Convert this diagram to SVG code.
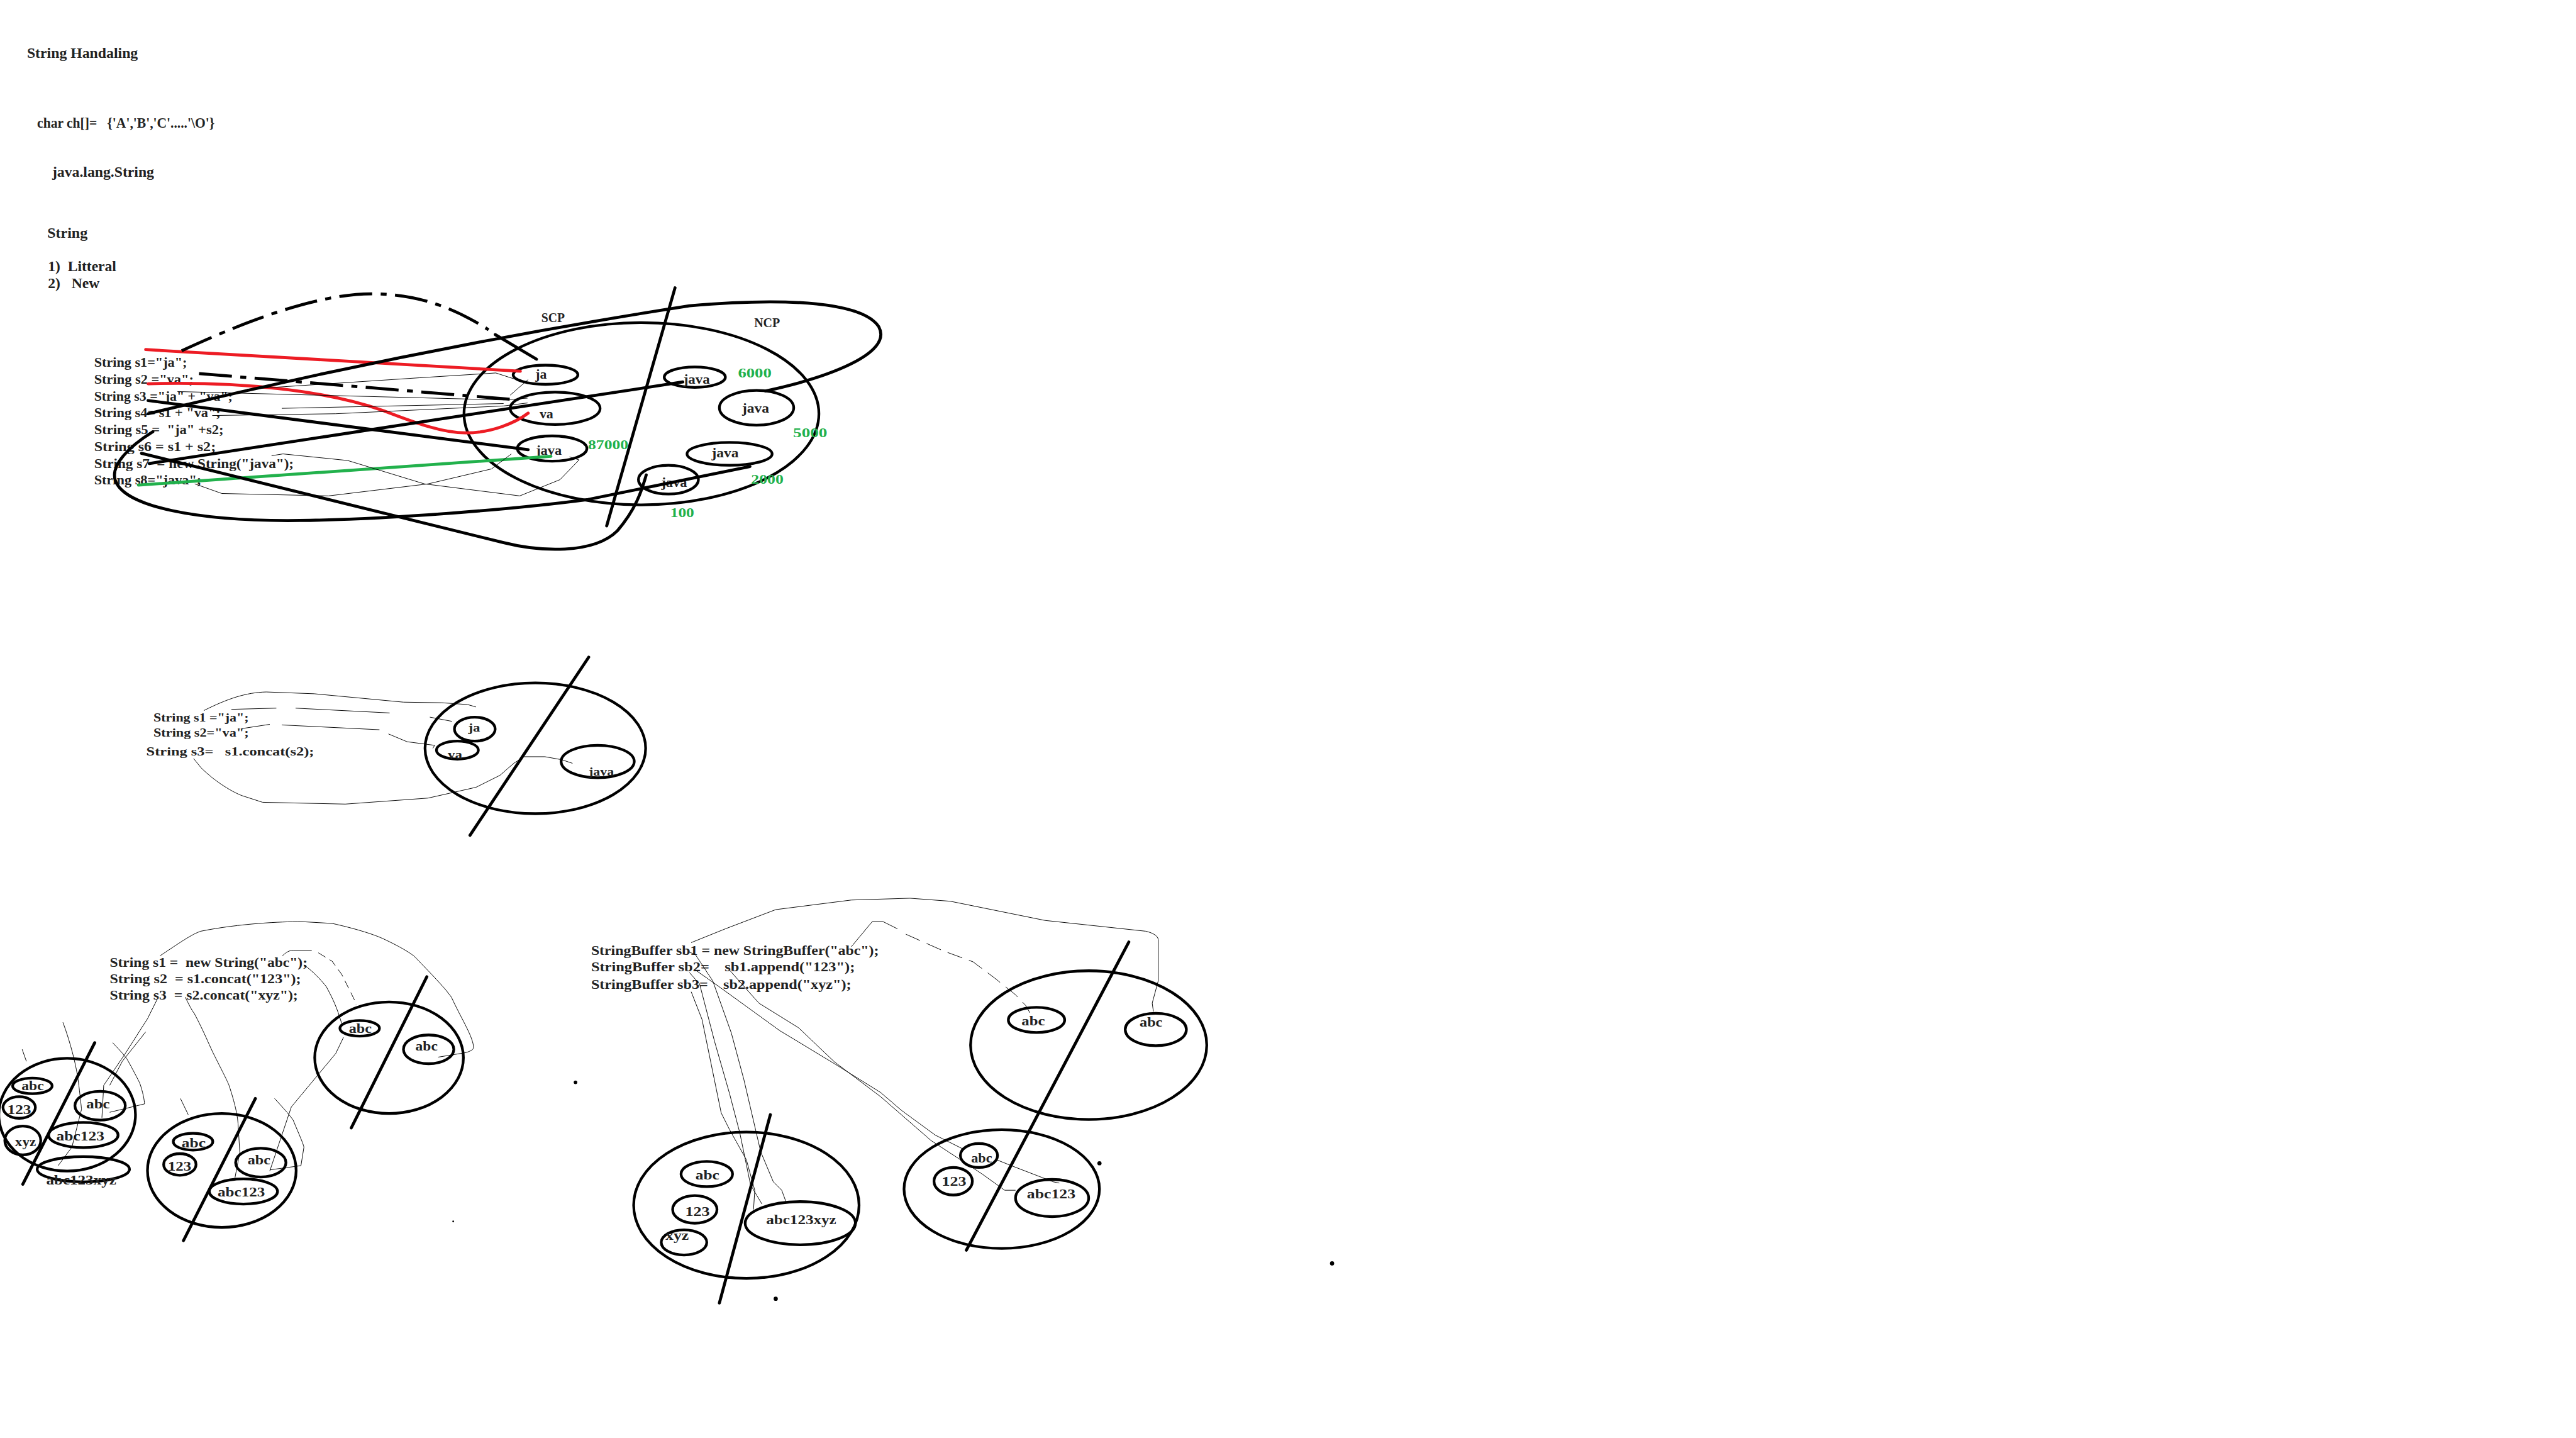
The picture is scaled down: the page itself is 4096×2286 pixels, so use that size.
<svg xmlns="http://www.w3.org/2000/svg" width="4096" height="2286" viewBox="0 0 4096 2286">
<style>
.t{font-family:"Liberation Serif",serif;font-weight:bold;fill:#222;white-space:pre}
.g{fill:#22b14c}
.th{fill:none;stroke:#000;stroke-width:5;stroke-linecap:round;stroke-linejoin:round}
.e{fill:none;stroke:#000;stroke-width:4.5}
.thin{fill:none;stroke:#000;stroke-width:1}
.red{fill:none;stroke:#ed1c24;stroke-width:5;stroke-linecap:round}
.grn{fill:none;stroke:#22b14c;stroke-width:5;stroke-linecap:round}
.dash{fill:none;stroke:#000;stroke-width:5;stroke-dasharray:55 14 10 14}
</style>
<rect width="4096" height="2286" fill="#fff"/>
<g transform="scale(0.95322)">
<g id="header">
<text class="t" x="45" y="97" font-size="25" textLength="185" lengthAdjust="spacingAndGlyphs">String Handaling</text>
<text class="t" x="62" y="213" font-size="25" textLength="296" lengthAdjust="spacingAndGlyphs">char ch[]=   {'A','B','C'.....'\O'}</text>
<text class="t" x="87" y="295" font-size="25" textLength="170" lengthAdjust="spacingAndGlyphs">java.lang.String</text>
<text class="t" x="79" y="397" font-size="25" textLength="67" lengthAdjust="spacingAndGlyphs">String</text>
<text class="t" x="80" y="452" font-size="25" textLength="114" lengthAdjust="spacingAndGlyphs">1)  Litteral</text>
<text class="t" x="80" y="480" font-size="25" textLength="86" lengthAdjust="spacingAndGlyphs">2)   New</text>
</g>

<g id="code1">
<text class="t" x="157" y="612" font-size="23" textLength="155" lengthAdjust="spacingAndGlyphs">String s1="ja";</text>
<text class="t" x="157" y="640" font-size="23" textLength="166" lengthAdjust="spacingAndGlyphs">String s2 ="va";</text>
<text class="t" x="157" y="668" font-size="23" textLength="231" lengthAdjust="spacingAndGlyphs">String s3 ="ja" + "va";</text>
<text class="t" x="157" y="696" font-size="23" textLength="211" lengthAdjust="spacingAndGlyphs">String s4= s1 + "va";</text>
<text class="t" x="157" y="724" font-size="23" textLength="216" lengthAdjust="spacingAndGlyphs">String s5 =  "ja" +s2;</text>
<text class="t" x="157" y="752" font-size="23" textLength="203" lengthAdjust="spacingAndGlyphs">String s6 = s1 + s2;</text>
<text class="t" x="157" y="780" font-size="23" textLength="333" lengthAdjust="spacingAndGlyphs">String s7  = new String("java");</text>
<text class="t" x="157" y="808" font-size="23" textLength="179" lengthAdjust="spacingAndGlyphs">String s8="java";</text>
</g>

<g id="pool1">
<ellipse class="e" cx="1070" cy="690" rx="296" ry="152"/>
<path class="th" d="M1126,480 L1012,877"/>
<text class="t" x="903" y="537" font-size="22" textLength="39" lengthAdjust="spacingAndGlyphs">SCP</text>
<text class="t" x="1258" y="546" font-size="22" textLength="43" lengthAdjust="spacingAndGlyphs">NCP</text>
</g>
<g id="n-ja"><ellipse class="e" cx="910" cy="625" rx="54" ry="16"/><text class="t" x="893" y="632" font-size="23" textLength="19" lengthAdjust="spacingAndGlyphs">ja</text></g>
<g id="n-va"><ellipse class="e" cx="926" cy="681" rx="75" ry="27"/><text class="t" x="900" y="698" font-size="23" textLength="23" lengthAdjust="spacingAndGlyphs">va</text></g>
<g id="n-java-scp"><ellipse class="e" cx="921" cy="748" rx="58" ry="21"/><text class="t" x="894" y="758" font-size="23" textLength="43" lengthAdjust="spacingAndGlyphs">java</text><text class="t g" x="981" y="749" font-size="23" textLength="67" lengthAdjust="spacingAndGlyphs">87000</text></g>
<g id="n-java-6000"><ellipse class="e" cx="1159" cy="629" rx="51" ry="17"/><text class="t" x="1140" y="640" font-size="23" textLength="44" lengthAdjust="spacingAndGlyphs">java</text><text class="t g" x="1231" y="629" font-size="23" textLength="56" lengthAdjust="spacingAndGlyphs">6000</text></g>
<g id="n-java-5000"><ellipse class="e" cx="1262" cy="680" rx="62" ry="29"/><text class="t" x="1238" y="688" font-size="23" textLength="45" lengthAdjust="spacingAndGlyphs">java</text><text class="t g" x="1323" y="729" font-size="23" textLength="57" lengthAdjust="spacingAndGlyphs">5000</text></g>
<g id="n-java-2000"><ellipse class="e" cx="1217" cy="757" rx="71" ry="19"/><text class="t" x="1187" y="763" font-size="23" textLength="45" lengthAdjust="spacingAndGlyphs">java</text><text class="t g" x="1253" y="807" font-size="23" textLength="54" lengthAdjust="spacingAndGlyphs">2000</text></g>
<g id="n-java-100"><ellipse class="e" cx="1115" cy="800" rx="50" ry="24"/><text class="t" x="1103" y="812" font-size="23" textLength="43" lengthAdjust="spacingAndGlyphs">java</text><text class="t g" x="1118" y="862" font-size="23" textLength="40" lengthAdjust="spacingAndGlyphs">100</text></g>

<g id="code2">
<text class="t" x="256" y="1203" font-size="20" textLength="159" lengthAdjust="spacingAndGlyphs">String s1 ="ja";</text>
<text class="t" x="256" y="1228" font-size="20" textLength="159" lengthAdjust="spacingAndGlyphs">String s2="va";</text>
<text class="t" x="244" y="1260" font-size="20" textLength="280" lengthAdjust="spacingAndGlyphs">String s3=   s1.concat(s2);</text>
</g>
<g id="pool2">
<ellipse class="e" cx="893" cy="1248" rx="184" ry="109"/>
<path class="th" d="M982,1096 L784,1393"/>
</g>
<g id="p2-ja"><ellipse class="e" cx="792" cy="1216" rx="34" ry="20"/><text class="t" x="781" y="1220" font-size="20" textLength="20" lengthAdjust="spacingAndGlyphs">ja</text></g>
<g id="p2-va"><ellipse class="e" cx="763" cy="1251" rx="35" ry="15"/><text class="t" x="747" y="1265" font-size="20" textLength="24" lengthAdjust="spacingAndGlyphs">va</text></g>
<g id="p2-java"><ellipse class="e" cx="997" cy="1270" rx="61" ry="27"/><text class="t" x="982" y="1293" font-size="20" textLength="42" lengthAdjust="spacingAndGlyphs">java</text></g>

<g id="code3">
<text class="t" x="183" y="1612" font-size="23" textLength="330" lengthAdjust="spacingAndGlyphs">String s1 =  new String("abc");</text>
<text class="t" x="183" y="1640" font-size="23" textLength="319" lengthAdjust="spacingAndGlyphs">String s2  = s1.concat("123");</text>
<text class="t" x="183" y="1667" font-size="23" textLength="314" lengthAdjust="spacingAndGlyphs">String s3  = s2.concat("xyz");</text>
</g>
<g id="poolA"><ellipse class="e" cx="112" cy="1859" rx="114" ry="94"/><path class="th" d="M158,1739 L38,1975"/></g>
<g id="A-abc"><ellipse class="e" cx="54" cy="1811" rx="33" ry="13"/><text class="t" x="36" y="1818" font-size="23" textLength="37" lengthAdjust="spacingAndGlyphs">abc</text></g>
<g id="A-123"><ellipse class="e" cx="32" cy="1847" rx="27" ry="18"/><text class="t" x="12" y="1858" font-size="23" textLength="40" lengthAdjust="spacingAndGlyphs">123</text></g>
<g id="A-xyz"><ellipse class="e" cx="38" cy="1902" rx="30" ry="24"/><text class="t" x="25" y="1911" font-size="23" textLength="35" lengthAdjust="spacingAndGlyphs">xyz</text></g>
<g id="A-abc2"><ellipse class="e" cx="167" cy="1844" rx="42" ry="24"/><text class="t" x="144" y="1848" font-size="23" textLength="39" lengthAdjust="spacingAndGlyphs">abc</text></g>
<g id="A-abc123"><ellipse class="e" cx="139" cy="1893" rx="58" ry="21"/><text class="t" x="94" y="1902" font-size="23" textLength="80" lengthAdjust="spacingAndGlyphs">abc123</text></g>
<g id="A-abc123xyz"><ellipse class="e" cx="139" cy="1950" rx="77" ry="21"/><text class="t" x="77" y="1975" font-size="23" textLength="117" lengthAdjust="spacingAndGlyphs">abc123xyz</text></g>

<g id="poolB"><ellipse class="e" cx="370" cy="1952" rx="124" ry="95"/><path class="th" d="M426,1832 L306,2069"/></g>
<g id="B-abc"><ellipse class="e" cx="322" cy="1904" rx="33" ry="14"/><text class="t" x="303" y="1913" font-size="23" textLength="40" lengthAdjust="spacingAndGlyphs">abc</text></g>
<g id="B-123"><ellipse class="e" cx="300" cy="1942" rx="27" ry="18"/><text class="t" x="280" y="1952" font-size="23" textLength="39" lengthAdjust="spacingAndGlyphs">123</text></g>
<g id="B-abc2"><ellipse class="e" cx="435" cy="1939" rx="42" ry="24"/><text class="t" x="413" y="1942" font-size="23" textLength="38" lengthAdjust="spacingAndGlyphs">abc</text></g>
<g id="B-abc123"><ellipse class="e" cx="406" cy="1987" rx="57" ry="21"/><text class="t" x="363" y="1995" font-size="23" textLength="79" lengthAdjust="spacingAndGlyphs">abc123</text></g>

<g id="poolC"><ellipse class="e" cx="649" cy="1764" rx="124" ry="93"/><path class="th" d="M712,1629 L586,1881"/></g>
<g id="C-abc"><ellipse class="e" cx="600" cy="1715" rx="33" ry="13"/><text class="t" x="582" y="1723" font-size="23" textLength="38" lengthAdjust="spacingAndGlyphs">abc</text></g>
<g id="C-abc2"><ellipse class="e" cx="715" cy="1750" rx="42" ry="24"/><text class="t" x="693" y="1752" font-size="23" textLength="37" lengthAdjust="spacingAndGlyphs">abc</text></g>

<g id="code4">
<text class="t" x="986" y="1592" font-size="23" textLength="480" lengthAdjust="spacingAndGlyphs">StringBuffer sb1 = new StringBuffer("abc");</text>
<text class="t" x="986" y="1620" font-size="23" textLength="440" lengthAdjust="spacingAndGlyphs">StringBuffer sb2=    sb1.append("123");</text>
<text class="t" x="986" y="1649" font-size="23" textLength="434" lengthAdjust="spacingAndGlyphs">StringBuffer sb3=    sb2.append("xyz");</text>
</g>
<g id="poolD"><ellipse class="e" cx="1245" cy="2010" rx="188" ry="122"/><path class="th" d="M1285,1859 L1200,2173"/></g>
<g id="D-abc"><ellipse class="e" cx="1179" cy="1958" rx="43" ry="21"/><text class="t" x="1160" y="1967" font-size="22" textLength="40" lengthAdjust="spacingAndGlyphs">abc</text></g>
<g id="D-123"><ellipse class="e" cx="1159" cy="2017" rx="37" ry="23"/><text class="t" x="1143" y="2028" font-size="22" textLength="41" lengthAdjust="spacingAndGlyphs">123</text></g>
<g id="D-xyz"><ellipse class="e" cx="1141" cy="2072" rx="38" ry="21"/><text class="t" x="1110" y="2068" font-size="22" textLength="39" lengthAdjust="spacingAndGlyphs">xyz</text></g>
<g id="D-abc123xyz"><ellipse class="e" cx="1335" cy="2040" rx="92" ry="36"/><text class="t" x="1278" y="2042" font-size="22" textLength="117" lengthAdjust="spacingAndGlyphs">abc123xyz</text></g>

<g id="poolE"><ellipse class="e" cx="1671" cy="1983" rx="163" ry="99"/></g>
<g id="E-abc"><ellipse class="e" cx="1633" cy="1927" rx="31" ry="20"/><text class="t" x="1620" y="1939" font-size="22" textLength="35" lengthAdjust="spacingAndGlyphs">abc</text></g>
<g id="E-123"><ellipse class="e" cx="1590" cy="1970" rx="32" ry="23"/><text class="t" x="1571" y="1978" font-size="22" textLength="41" lengthAdjust="spacingAndGlyphs">123</text></g>
<g id="E-abc123"><ellipse class="e" cx="1755" cy="1998" rx="61" ry="31"/><text class="t" x="1713" y="1999" font-size="22" textLength="81" lengthAdjust="spacingAndGlyphs">abc123</text></g>

<g id="poolF"><ellipse class="e" cx="1816" cy="1743" rx="197" ry="124"/><path class="th" d="M1883,1571 L1612,2085"/></g>
<g id="F-abc"><ellipse class="e" cx="1729" cy="1701" rx="47" ry="21"/><text class="t" x="1704" y="1710" font-size="22" textLength="39" lengthAdjust="spacingAndGlyphs">abc</text></g>
<g id="F-abc2"><ellipse class="e" cx="1928" cy="1717" rx="51" ry="27"/><text class="t" x="1901" y="1712" font-size="22" textLength="38" lengthAdjust="spacingAndGlyphs">abc</text></g>

<g id="connectors">
<!-- diagram 1 -->
<path class="red" d="M243,583 L868,619"/>
<path class="red" d="M247,640 C400,636 540,650 640,685 C700,708 740,722 777,722 C820,722 860,705 881,689"/>
<path class="grn" d="M231,809 L919,761"/>
<path class="dash" d="M303,585 C390,545 520,490 620,490 C700,490 760,515 815,550"/>
<path class="th" d="M826,558 L895,599"/>
<path class="dash" d="M332,623 L853,666"/>
<path class="th" d="M247,690 Q700,580 1150,510 C1320,495 1440,505 1466,545 C1490,590 1380,630 1277,652"/>
<path class="th" d="M249,773 L1139,637"/>
<path class="th" d="M247,668 L881,750"/>
<path class="th" d="M236,756 L840,905 C900,920 990,925 1030,885 C1060,850 1070,820 1078,792"/>
<path class="th" d="M255,720 C215,745 185,775 192,800 C205,845 330,870 500,868 C650,866 850,850 981,833 L1251,778"/>
<path class="thin" d="M412,649 L700,630 L827,622 L858,632 M881,633 L851,659"/>
<path class="thin" d="M296,653 L840,667 L880,664 M354,693 L560,690 L840,677 L880,672 M470,681 L840,673"/>
<path class="thin" d="M325,807 L370,823 L548,827 L714,807 L820,782 L853,757"/>
<path class="thin" d="M453,760 L472,757 L580,768 L708,807 L867,827 L934,800 L966,767 L950,762"/>
<!-- diagram 2 -->
<path class="thin" d="M340,1185 C380,1165 410,1155 444,1154 L524,1157 L673,1171 L737,1172 L780,1175 L794,1179"/>
<path class="thin" d="M386,1183 L461,1181 M493,1181 L650,1189 M717,1196 L754,1203"/>
<path class="thin" d="M404,1215 L450,1208 M470,1209 L633,1217 M648,1224 L679,1237 L725,1243 L722,1248"/>
<path class="thin" d="M323,1265 L335,1280 C360,1305 390,1322 404,1327 L438,1338 L576,1341 L714,1331 L794,1313 L834,1293 L857,1273 L874,1262 L909,1262 L937,1267 L955,1273"/>
<!-- diagram 3 -->
<path class="thin" d="M267,1594 C300,1572 320,1558 335,1553 C400,1540 470,1537 502,1537 L554,1540 C590,1548 620,1557 638,1565 C670,1580 690,1592 696,1600 C720,1625 740,1645 753,1663 C770,1700 790,1730 790,1748 C788,1752 780,1755 774,1756 L731,1763"/>
<path class="thin" d="M471,1594 C478,1588 482,1585 489,1585 L520,1585 M507,1609 C525,1622 540,1640 544,1645 C555,1665 562,1680 570,1707"/>
<path class="thin" stroke-dasharray="14 8" d="M531,1589 L554,1603 L570,1625 L578,1641 L591,1667 L594,1676"/>
<path class="thin" d="M262,1667 L246,1699 L209,1757 L173,1810 L170,1864 M243,1721 L204,1770 L183,1810"/>
<path class="thin" d="M105,1705 C118,1740 128,1780 131,1806 C134,1830 136,1850 136,1850 L120,1913 L97,1944 M37,1750 L44,1770"/>
<path class="thin" d="M188,1739 C200,1752 210,1762 214,1770 C225,1790 230,1800 233,1806 C238,1820 241,1835 241,1841 L183,1855"/>
<path class="thin" d="M309,1663 C315,1675 320,1685 324,1690 C340,1720 350,1745 356,1757 C370,1785 378,1800 382,1810 C392,1840 396,1860 397,1873 L400,1922 L392,1964 M301,1832 L314,1859"/>
<path class="thin" d="M458,1832 C470,1845 482,1858 489,1868 C498,1890 505,1905 507,1913 L502,1944 L450,1951 M573,1730 L560,1757 L486,1846 L450,1953"/>
<!-- diagram 4 -->
<path class="thin" d="M1153,1572 L1210,1549 L1294,1517 L1420,1501 L1518,1498 L1585,1503 L1743,1535 L1911,1553 C1925,1556 1932,1562 1932,1567 L1932,1636 L1922,1673 L1924,1687"/>
<path class="thin" d="M1420,1579 L1455,1537 L1473,1537 L1497,1549"/>
<path class="thin" stroke-dasharray="26 12" d="M1511,1558 L1574,1586 L1623,1604 L1659,1631 L1694,1659 L1711,1677 L1718,1689"/>
<path class="thin" stroke="#ed1c24" d="M1150,1588 L1160,1592 L1189,1636 L1220,1723 L1241,1801 L1269,1921 L1290,1971 L1304,1985 L1311,2004"/>
<path class="thin" stroke="#22b14c" d="M1153,1654 L1171,1700 L1203,1856 L1217,1884 L1245,1934 L1259,1985 L1257,2017"/>
<path class="thin" d="M1150,1622 L1167,1641 L1192,1737 L1217,1824 L1234,1889 L1252,1976 L1271,2008"/>
<path class="thin" d="M1159,1617 L1196,1643 L1301,1719 L1392,1774 L1469,1822 L1504,1852 L1560,1893 L1606,1916"/>
<path class="thin" d="M1217,1618 L1266,1673 L1332,1714 L1392,1771 L1469,1829 L1553,1902 L1637,1957 L1676,1985 L1694,1985"/>
<path class="thin" d="M1662,1934 L1687,1944 L1757,1971 L1767,1973"/>
</g>
<g id="dots">
<circle cx="960" cy="1805" r="3"/>
<circle cx="1834" cy="1940" r="3.5"/>
<circle cx="1294" cy="2166" r="3.5"/>
<circle cx="2222" cy="2107" r="3.5"/>
<circle cx="756" cy="2037" r="1.5"/>
</g>
</g>
</svg>
